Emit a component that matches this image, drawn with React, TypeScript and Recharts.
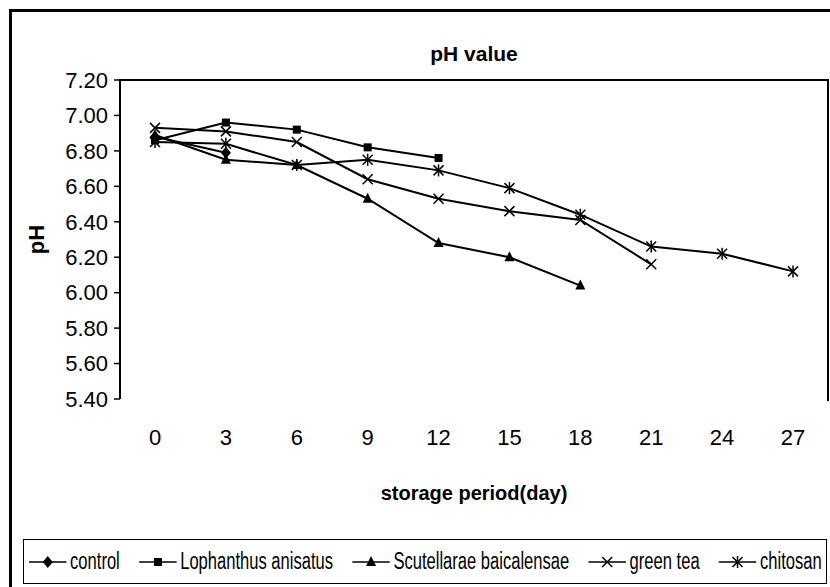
import React from 'react';
import { LineChart, Line, XAxis, YAxis, Legend } from 'recharts';

const days = [0, 3, 6, 9, 12, 15, 18, 21, 24, 27];
const control = [6.88, 6.79];
const lophanthus = [6.86, 6.96, 6.92, 6.82, 6.76];
const scutellarae = [6.89, 6.75, 6.72, 6.53, 6.28, 6.2, 6.04];
const greenTea = [6.93, 6.91, 6.85, 6.64, 6.53, 6.46, 6.41, 6.16];
const chitosan = [6.85, 6.84, 6.72, 6.75, 6.69, 6.59, 6.44, 6.26, 6.22, 6.12];
const yTicks = [5.4, 5.6, 5.8, 6.0, 6.2, 6.4, 6.6, 6.8, 7.0, 7.2];
const boundaryTicks = [0, 1, 2, 3, 4, 5, 6, 7, 8, 9, 10];

const seriesNames = ['control', 'Lophanthus anisatus', 'Scutellarae baicalensae', 'green tea', 'chitosan'];
const seriesKeys = ['control', 'lophanthus', 'scutellarae', 'greenTea', 'chitosan'];
const seriesMarkers = ['diamond', 'square', 'triangle', 'x', 'asterisk'];

const data = days.map((d, i) => ({
  day: d,
  control: control[i],
  lophanthus: lophanthus[i],
  scutellarae: scutellarae[i],
  greenTea: greenTea[i],
  chitosan: chitosan[i],
}));

const FONT = "'Liberation Sans Narrow', 'Arial Narrow', 'Liberation Sans', Arial, sans-serif";
const LEGEND_SQUEEZE = 0.72;

function Marker({ type, cx, cy }: { type: string; cx: number; cy: number }) {
  switch (type) {
    case 'diamond':
      return <polygon points={`${cx},${cy - 6} ${cx + 5},${cy} ${cx},${cy + 6} ${cx - 5},${cy}`} fill="#000" />;
    case 'square':
      return <rect x={cx - 4} y={cy - 4} width={8} height={8} fill="#000" />;
    case 'triangle':
      return <polygon points={`${cx},${cy - 6} ${cx + 5},${cy + 4} ${cx - 5},${cy + 4}`} fill="#000" />;
    case 'x':
      return (
        <g stroke="#000" strokeWidth={1.5}>
          <line x1={cx - 5} y1={cy - 5} x2={cx + 5} y2={cy + 5} />
          <line x1={cx - 5} y1={cy + 5} x2={cx + 5} y2={cy - 5} />
        </g>
      );
    default:
      return (
        <g stroke="#000" strokeWidth={1.5}>
          <line x1={cx - 5} y1={cy - 5} x2={cx + 5} y2={cy + 5} />
          <line x1={cx - 5} y1={cy + 5} x2={cx + 5} y2={cy - 5} />
          <line x1={cx} y1={cy - 6} x2={cx} y2={cy + 6} />
        </g>
      );
  }
}

const makeDot = (type: string) => (props: any) => {
  const { cx, cy, value, index } = props;
  if (cx == null || cy == null || value == null || Number.isNaN(cy)) return <g key={`e-${type}-${index}`} />;
  return (
    <g key={`d-${type}-${index}`}>
      <Marker type={type} cx={cx} cy={cy} />
    </g>
  );
};

const renderLegend = () => (
  <div
    style={{
      boxSizing: 'border-box',
      width: 804,
      height: 45,
      border: '1px solid #000',
      background: '#fff',
      overflow: 'hidden',
    }}
  >
    <div
      style={{
        boxSizing: 'border-box',
        width: 802 / LEGEND_SQUEEZE,
        height: 43,
        transform: `scaleX(${LEGEND_SQUEEZE})`,
        transformOrigin: 'left center',
        display: 'flex',
        alignItems: 'center',
        justifyContent: 'space-between',
        padding: '0 6px',
        fontFamily: FONT,
        fontSize: 23,
        color: '#000',
        whiteSpace: 'nowrap',
      }}
    >
      {seriesNames.map((name, i) => (
        <div key={name} style={{ display: 'flex', alignItems: 'center' }}>
          <svg width={54} height={16} style={{ marginRight: 4 }}>
            <line x1={1} y1={8} x2={53} y2={8} stroke="#000" strokeWidth={1.5} />
            <g transform={`translate(27,8) scale(${1 / LEGEND_SQUEEZE},1) translate(-27,-8)`}>
              <Marker type={seriesMarkers[i]} cx={27} cy={8} />
            </g>
          </svg>
          <span>{name}</span>
        </div>
      ))}
    </div>
  </div>
);

export default function App() {
  return (
    <div style={{ position: 'absolute', left: 0, top: 0, width: 830, height: 587, background: '#fff', overflow: 'hidden' }}>
      <div
        style={{
          position: 'absolute',
          left: 9,
          top: 9,
          width: 830,
          height: 600,
          borderTop: '3px solid #000',
          borderLeft: '3px solid #000',
        }}
      />
      <div
        style={{
          position: 'absolute',
          left: 119,
          top: 79,
          width: 708,
          height: 320,
          borderTop: '2px solid #000',
          borderRight: '2px solid #000',
        }}
      />
      <div
        style={{
          position: 'absolute',
          left: 120,
          width: 708,
          top: 42,
          textAlign: 'center',
          fontFamily: FONT,
          fontWeight: 'bold',
          fontSize: 21,
        }}
      >
        pH value
      </div>
      <div
        style={{
          position: 'absolute',
          left: 120,
          width: 708,
          top: 482,
          textAlign: 'center',
          fontFamily: FONT,
          fontWeight: 'bold',
          fontSize: 20,
        }}
      >
        storage period(day)
      </div>
      <div style={{ position: 'absolute', left: 0, top: 0 }}>
        <LineChart width={830} height={587} data={data} margin={{ top: 80, right: 2, left: 0, bottom: 128 }}>
          <XAxis
            xAxisId="bounds"
            type="number"
            domain={[0, 10]}
            allowDataOverflow
            ticks={boundaryTicks}
            interval={0}
            tick={false}
            tickSize={7}
            height={0}
            axisLine={{ stroke: '#000', strokeWidth: 2 }}
            tickLine={{ stroke: '#000', strokeWidth: 1.5 }}
          />
          <XAxis
            dataKey="day"
            height={60}
            padding={{ left: 35, right: 35 }}
            axisLine={false}
            tickLine={false}
            tickSize={6}
            tickMargin={24}
            interval={0}
            tick={{ fill: '#000', fontSize: 22, fontFamily: FONT }}
          />
          <YAxis
            domain={[5.4, 7.2]}
            ticks={yTicks}
            interval={0}
            width={120}
            tickSize={6}
            tickMargin={6}
            tickFormatter={(v: number) => v.toFixed(2)}
            axisLine={{ stroke: '#000', strokeWidth: 2 }}
            tickLine={{ stroke: '#000', strokeWidth: 1.5 }}
            tick={{ fill: '#000', fontSize: 22, fontFamily: FONT }}
            label={{
              content: (p: any) => {
                const vb = p.viewBox || {};
                const cx = (vb.x || 0) + 36;
                const cy = (vb.y || 0) + (vb.height || 0) / 2;
                return (
                  <text
                    x={cx}
                    y={cy}
                    transform={`rotate(-90, ${cx}, ${cy})`}
                    textAnchor="middle"
                    dominantBaseline="central"
                    fontFamily={FONT}
                    fontWeight="bold"
                    fontSize={22}
                    fill="#000"
                  >
                    pH
                  </text>
                );
              },
            }}
          />
          <Legend
            layout="horizontal"
            verticalAlign="middle"
            align="center"
            wrapperStyle={{ top: 539, left: 23, width: 804, height: 45 }}
            content={renderLegend}
          />
          {seriesKeys.map((k, i) => (
            <Line
              key={k}
              dataKey={k}
              name={seriesNames[i]}
              stroke="#000"
              strokeWidth={2}
              dot={makeDot(seriesMarkers[i])}
              activeDot={false}
              isAnimationActive={false}
              connectNulls={false}
            />
          ))}
        </LineChart>
      </div>
    </div>
  );
}
